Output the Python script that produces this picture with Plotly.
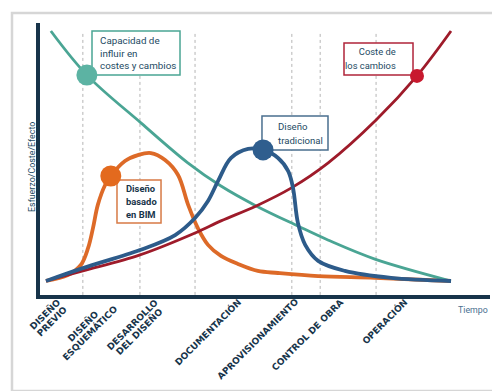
import plotly.graph_objects as go

# ---------------- data (time 0-100, effort 0-100) ----------------
teal_x = [1.2, 10.1, 23.5, 35.1, 43.2, 51.9, 62.2, 69.6, 81.2, 100]
teal_y = [96.9, 79.8, 61.2, 45.7, 36.8, 29.1, 21.3, 15.9, 8.5, 0]

red_x = [0, 9.1, 23.2, 36.8, 43.2, 51.9, 60.5, 69.6, 81.5, 91.6, 100]
red_y = [0, 3.9, 10.1, 18.6, 23.3, 29.1, 36.0, 45.7, 62.4, 79.5, 96.9]

blue_x = [0, 9.1, 23.2, 31.9, 36.8, 40.0, 42.5, 45.7, 49.9, 53.6, 57.3, 59.8, 61.0, 62.2, 64.0, 67.2, 73.8, 85.2, 100]
blue_y = [0, 5.0, 12.0, 17.8, 24.4, 31.0, 38.8, 47.7, 51.2, 50.8, 47.7, 42.6, 36.0, 22.5, 14.0, 7.8, 3.9, 1.2, 0]

orange_x = [0, 5.4, 8.6, 10.4, 11.6, 12.8, 14.6, 16.0, 19.5, 22.7, 25.9, 29.4, 32.6, 35.1, 37.5, 40.0, 43.2, 47.4, 52.3, 57.3, 67.2, 81.2, 100]
orange_y = [0, 2.3, 6.2, 12.8, 20.5, 29.5, 37.2, 40.7, 46.5, 48.8, 49.6, 46.9, 41.1, 29.5, 20.5, 14.0, 9.7, 6.6, 3.9, 3.1, 1.9, 1.2, 0]

# highlighted points
teal_pt = (10.1, 79.8)
red_pt = (91.6, 79.5)
blue_pt = (53.6, 50.8)
orange_pt = (16.0, 40.7)

phase_names = ["DISEÑO<br>PREVIO", "DISEÑO<br>ESQUEMÁTICO", "DESARROLLO<br>DEL DISEÑO",
               "DOCUMENTACIÓN", "APROVISIONAMIENTO", "CONTROL DE OBRA", "OPERACIÓN"]
phase_label_x = [6.5, 18.8, 30.7, 49.2, 63.5, 74.6, 90.4]
phase_bounds = [9.1, 23.2, 36.8, 60.7, 67.7, 81.5]

# ---------------- style ----------------
NAVY = "#17344a"
TXT = "#1d4a63"
FONT = "Roboto, Liberation Sans, sans-serif"

TEAL, TEAL_M = "#4aa594", "#5cb3a3"
RED, RED_M = "#9e1b2a", "#c8192e"
BLUE, BLUE_M = "#2d5b8a", "#2f5e8e"
ORANGE, ORANGE_M = "#dd6a28", "#e36a1e"

fig = go.Figure()

def curve(x, y, color, w):
    fig.add_trace(go.Scatter(x=x, y=y, mode="lines",
                             line=dict(color=color, width=w, shape="spline", smoothing=1.0),
                             hoverinfo="skip", showlegend=False))

curve(orange_x, orange_y, ORANGE, 3.8)
curve(teal_x, teal_y, TEAL, 2.8)
curve(red_x, red_y, RED, 2.8)
curve(blue_x, blue_y, BLUE, 3.8)

def point(p, color, size):
    fig.add_trace(go.Scatter(x=[p[0]], y=[p[1]], mode="markers",
                             marker=dict(color=color, size=size, line=dict(width=0)),
                             hoverinfo="skip", showlegend=False))

point(teal_pt, TEAL_M, 21)
point(orange_pt, ORANGE_M, 21)
point(blue_pt, BLUE_M, 21)
point(red_pt, RED_M, 14)

shapes = []
for b in phase_bounds:
    shapes.append(dict(type="line", xref="x", yref="y", x0=b, x1=b, y0=-5.4, y1=96.9,
                       line=dict(color="#b5b5b5", width=1, dash="dot"), layer="below"))

def box(x0, x1, y0, y1, color):
    shapes.append(dict(type="rect", xref="x", yref="y", x0=x0, x1=x1, y0=y0, y1=y1,
                       line=dict(color=color, width=1.5), fillcolor="white", layer="below"))

box(11.36, 33.09, 79.84, 96.9, TEAL)
box(73.58, 90.62, 79.84, 92.25, "#b0243a")
box(53.33, 69.63, 50.78, 63.95, "#4a6f8f")
box(17.53, 28.40, 22.48, 39.15, "#d77a45")

# outer frame
shapes.append(dict(type="rect", xref="paper", yref="paper", x0=-0.0622, x1=1.0222,
                   y0=-0.353, y1=1.0368, line=dict(color="#d6d6d6", width=2.5), layer="below"))

ann = []
ann.append(dict(x=12.8, y=88.37, xref="x", yref="y", xanchor="left", yanchor="middle",
                align="left", showarrow=False,
                text="Capacidad de<br>influir en<br>costes y cambios",
                font=dict(family=FONT, size=9.8, color=TXT)))
ann.append(dict(x=86.91, y=86.05, xref="x", yref="y", xanchor="right", yanchor="middle",
                align="right", showarrow=False,
                text='<span style="font-size:9.4px">Coste de<br>los cambios</span>',
                font=dict(family=FONT, size=10.8, color=TXT)))
ann.append(dict(x=56.79, y=57.36, xref="x", yref="y", xanchor="left", yanchor="middle",
                align="left", showarrow=False,
                text='<span style="font-size:9.6px">Diseño<br>tradicional</span>',
                font=dict(family=FONT, size=10.8, color=TXT)))
ann.append(dict(x=19.26, y=30.81, xref="x", yref="y", xanchor="left", yanchor="middle",
                align="left", showarrow=False,
                text='<span style="font-size:9.4px"><b>Diseño<br>basado<br>en BIM</b></span>',
                font=dict(family=FONT, size=10, color=NAVY)))

for name, lx in zip(phase_names, phase_label_x):
    ann.append(dict(x=lx, y=0.004, xref="x", yref="paper", xanchor="right", yanchor="top",
                    textangle=-45, showarrow=False, align="center",
                    text='<span style="font-size:9px"><b>' + name + '</b></span>',
                    font=dict(family="DejaVu Sans", size=7.5, color=NAVY)))

ann.append(dict(x=1.0, y=-0.0551, xref="paper", yref="paper", xanchor="right", yanchor="middle",
                showarrow=False, text="Tiempo", font=dict(family=FONT, size=8.8, color="#4a7090")))
ann.append(dict(x=-0.0178, y=0.4706, xref="paper", yref="paper", xanchor="center", yanchor="middle",
                textangle=-90, showarrow=False, text="Esfuerzo/Coste/Efecto",
                font=dict(family=FONT, size=8.9, color=TXT)))

fig.update_layout(
    width=500, height=391,
    margin=dict(l=32, r=18, t=15, b=104),
    paper_bgcolor="white", plot_bgcolor="white",
    shapes=shapes, annotations=ann,
    xaxis=dict(range=[-1.48, 109.63], showline=True, linecolor=NAVY, linewidth=3.5,
               showgrid=False, zeroline=False, showticklabels=False, ticks=""),
    yaxis=dict(range=[-5.43, 100], showline=True, linecolor=NAVY, linewidth=3.5,
               showgrid=False, zeroline=False, showticklabels=False, ticks=""),
)

fig.write_html("out.html")
